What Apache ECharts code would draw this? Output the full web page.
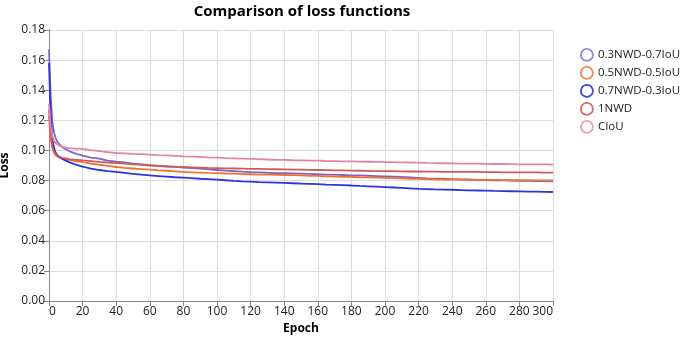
<!DOCTYPE html>
<html>
<head>
<meta charset="utf-8">
<script src="https://cdn.jsdelivr.net/npm/echarts@6/dist/echarts.min.js"></script>
<style>
html,body{margin:0;padding:0;background:#fff;}
#chart{width:680px;height:341px;}
</style>
</head>
<body>
<div id="chart"></div>
<script>
const epochs = [0,1,2,3,4,5,6,8,10,12,15,
  20,25,30,35,40,45,50,55,60,65,70,75,80,85,90,95,100,
  105,110,115,120,125,130,135,140,145,150,155,160,165,170,175,180,185,190,195,200,
  205,210,215,220,225,230,235,240,245,250,255,260,265,270,275,280,285,290,295,300];

const nwd03 = [0.167,0.136,0.119,0.112,0.108,0.1058,0.1043,0.1022,0.1008,0.0996,0.0982,
  0.0966,0.0953,0.0945,0.0933,0.0925,0.0920,0.0912,0.0908,0.0902,0.0897,0.0893,0.0891,0.0886,0.0883,0.0879,0.0874,0.0870,
  0.0866,0.0863,0.0859,0.0856,0.0855,0.0852,0.0850,0.0849,0.0848,0.0846,0.0844,0.0842,0.0840,0.0839,0.0837,0.0835,0.0834,0.0832,0.0830,0.0828,
  0.0826,0.0824,0.0821,0.0818,0.0815,0.0813,0.0812,0.0810,0.0808,0.0807,0.0805,0.0803,0.0802,0.0801,0.0800,0.0798,0.0798,0.0797,0.0796,0.0795];

const nwd05 = [0.123,0.108,0.1015,0.0985,0.0968,0.0958,0.0952,0.0946,0.0941,0.0937,0.0931,
  0.0922,0.0913,0.0905,0.0898,0.0890,0.0884,0.0880,0.0876,0.0872,0.0868,0.0865,0.0861,0.0857,0.0855,0.0853,0.0851,0.0850,
  0.0847,0.0846,0.0843,0.0842,0.0840,0.0839,0.0838,0.0837,0.0836,0.0835,0.0832,0.0831,0.0828,0.0827,0.0825,0.0824,0.0822,0.0821,0.0819,0.0818,
  0.0816,0.0814,0.0812,0.0811,0.0809,0.0808,0.0807,0.0807,0.0806,0.0805,0.0805,0.0804,0.0804,0.0803,0.0803,0.0802,0.0802,0.0801,0.0801,0.0801];

const nwd07 = [0.158,0.124,0.108,0.1015,0.0985,0.0968,0.0957,0.0943,0.0932,0.0922,0.0909,
  0.0893,0.0880,0.0870,0.0863,0.0857,0.0851,0.0845,0.0839,0.0834,0.0830,0.0826,0.0822,0.0819,0.0816,0.0812,0.0809,0.0806,
  0.0802,0.0798,0.0795,0.0793,0.0790,0.0788,0.0786,0.0784,0.0782,0.0780,0.0778,0.0776,0.0773,0.0771,0.0769,0.0767,0.0764,0.0762,0.0760,0.0757,
  0.0754,0.0751,0.0748,0.0745,0.0743,0.0741,0.0740,0.0739,0.0737,0.0735,0.0734,0.0733,0.0731,0.0730,0.0729,0.0728,0.0727,0.0726,0.0725,0.0724];

const nwd1 = [0.127,0.111,0.1025,0.0995,0.0975,0.0965,0.0958,0.0951,0.0947,0.0943,0.0939,
  0.0934,0.0929,0.0924,0.0920,0.0916,0.0912,0.0908,0.0904,0.0900,0.0897,0.0895,0.0892,0.0890,0.0888,0.0886,0.0884,0.0883,
  0.0881,0.0880,0.0879,0.0878,0.0877,0.0876,0.0875,0.0874,0.0873,0.0872,0.0871,0.0870,0.0869,0.0868,0.0867,0.0866,0.0865,0.0864,0.0863,0.0862,
  0.0862,0.0861,0.0860,0.0860,0.0859,0.0859,0.0858,0.0858,0.0857,0.0857,0.0857,0.0856,0.0856,0.0855,0.0855,0.0855,0.0854,0.0854,0.0853,0.0853];

const ciou = [0.131,0.116,0.1095,0.1065,0.1048,0.1038,0.1032,0.1024,0.1019,0.1016,0.1013,
  0.1010,0.1002,0.0996,0.0989,0.0983,0.0980,0.0977,0.0975,0.0972,0.0969,0.0967,0.0964,0.0961,0.0959,0.0957,0.0954,0.0952,
  0.0949,0.0947,0.0945,0.0944,0.0942,0.0940,0.0938,0.0937,0.0935,0.0934,0.0933,0.0932,0.0930,0.0929,0.0928,0.0927,0.0926,0.0925,0.0924,0.0923,
  0.0922,0.0921,0.0920,0.0919,0.0917,0.0916,0.0915,0.0914,0.0913,0.0912,0.0912,0.0911,0.0910,0.0910,0.0909,0.0908,0.0908,0.0907,0.0907,0.0906];

const seriesNames = ['0.3NWD-0.7IoU','0.5NWD-0.5IoU','0.7NWD-0.3IoU','1NWD','CIoU'];
const seriesValues = [nwd03, nwd05, nwd07, nwd1, ciou];
const colors = ['#8064c8','#f0732e','#2a35e0','#d05a5a','#e485a5'];
const legendColors = ['#9c86d4','#f08c4a','#3c48dc','#d86a6a','#e8a0b8'];

const FONT = '"Open Sans", "DejaVu Sans", sans-serif';

const chart = echarts.init(document.getElementById('chart'), null, {renderer:'canvas'});
chart.setOption({
  animation: false,
  color: colors,
  textStyle: {fontFamily: FONT},
  title: {
    text: 'Comparison of loss functions',
    left: 302, top: 0, padding: [4,0,0,0],
    textAlign: 'center',
    textStyle: {fontFamily: FONT, fontSize: 15, fontWeight: 'bold', color: '#000'}
  },
  legend: {
    orient: 'vertical',
    left: 575, top: 43,
    itemWidth: 12, itemHeight: 12, itemGap: 4.2,
    textStyle: {fontFamily: FONT, fontSize: 11.5, color: '#222'},
    data: seriesNames.map((n, i) => ({
      name: n,
      icon: 'circle',
      itemStyle: {color: '#ffffff', borderColor: legendColors[i], borderWidth: 1.8}
    }))
  },
  grid: {left: 49, right: 127, top: 30, bottom: 40, containLabel: false, outerBoundsMode: 'none'},
  xAxis: {
    type: 'value', min: 0, max: 300, interval: 20,
    name: 'Epoch', nameLocation: 'middle', nameGap: 21,
    nameTextStyle: {fontFamily: FONT, fontSize: 12, fontWeight: 'bold', color: '#000'},
    axisLine: {show: true, lineStyle: {color: '#888', width: 1}},
    axisTick: {show: true, length: 5, lineStyle: {color: '#888'}},
    axisLabel: {fontFamily: FONT, fontSize: 12, color: '#222', margin: 5, alignMinLabel: 'left', alignMaxLabel: 'right'},
    splitLine: {show: true, lineStyle: {color: '#ddd', width: 1}}
  },
  yAxis: {
    type: 'value', min: 0, max: 0.18, interval: 0.02,
    name: 'Loss', nameLocation: 'middle', nameGap: 30,
    nameTextStyle: {fontFamily: FONT, fontSize: 12, fontWeight: 'bold', color: '#000'},
    axisLine: {show: true, lineStyle: {color: '#888', width: 1}},
    axisTick: {show: true, length: 5, lineStyle: {color: '#888'}},
    axisLabel: {fontFamily: FONT, fontSize: 12, color: '#222', margin: 4, formatter: v => v.toFixed(2)},
    splitLine: {show: true, lineStyle: {color: '#ddd', width: 1}}
  },
  series: seriesNames.map((name, i) => ({
    name: name,
    type: 'line',
    showSymbol: false,
    symbol: 'none',
    lineStyle: {width: 1.8, color: colors[i]},
    itemStyle: {color: colors[i]},
    data: epochs.map((e, k) => [e, seriesValues[i][k]])
  }))
});
</script>
</body>
</html>
